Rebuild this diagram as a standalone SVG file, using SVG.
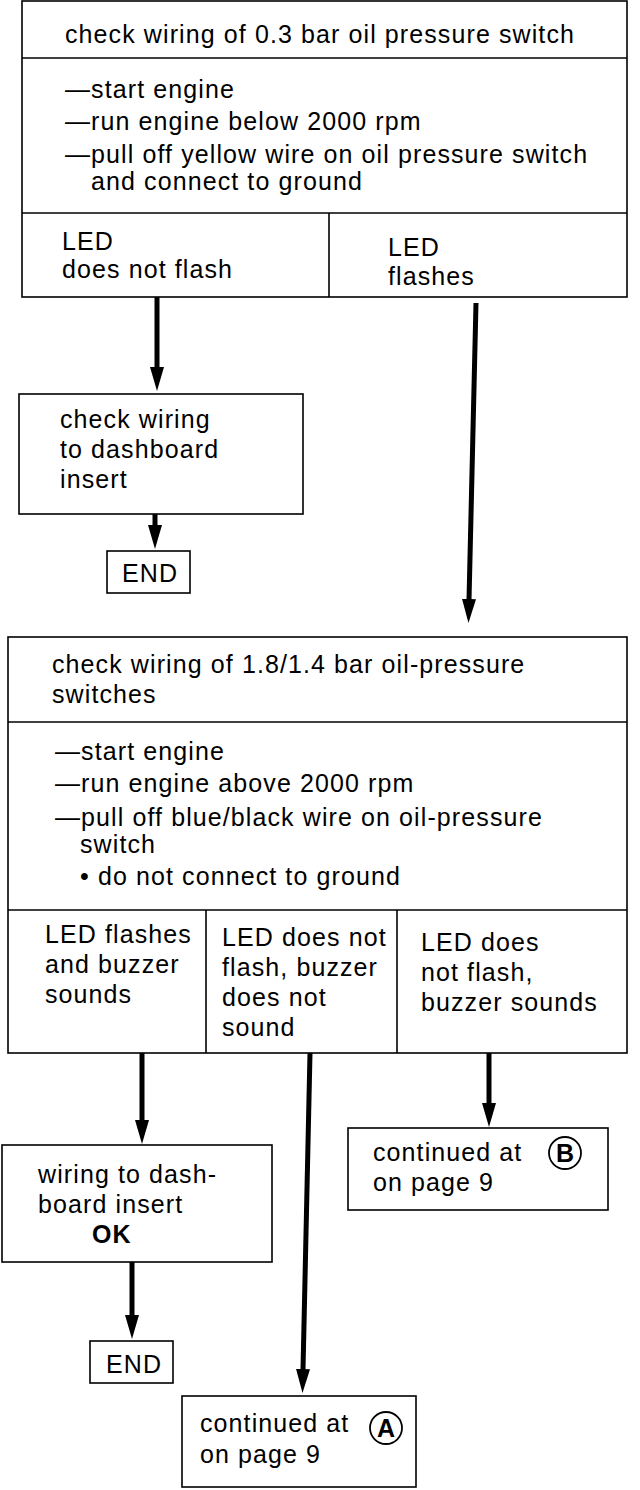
<svg xmlns="http://www.w3.org/2000/svg" width="640" height="1490" viewBox="0 0 640 1490">
<defs>
<style>
text{font-family:"Liberation Sans",Arial,Helvetica,sans-serif;font-size:25px;fill:#000;letter-spacing:1.1px}
.box{fill:none;stroke:#000;stroke-width:1.6}
.ln{fill:none;stroke:#000;stroke-width:1.6}
.arr{fill:none;stroke:#000;stroke-width:5}
.b{font-weight:bold}
</style>
<marker id="ah" viewBox="0 0 24 14" refX="1" refY="7" markerWidth="24" markerHeight="14" markerUnits="userSpaceOnUse" orient="auto">
<path d="M0,0 L24,7 L0,14 z" fill="#000"/>
</marker>
</defs>
<rect width="640" height="1490" fill="#fff"/>

<g id="node-check-03">
<rect class="box" x="22" y="1" width="605" height="296"/>
<line class="ln" x1="22" y1="58" x2="627" y2="58"/>
<line class="ln" x1="22" y1="213" x2="627" y2="213"/>
<line class="ln" x1="329" y1="213" x2="329" y2="297"/>
<text x="65" y="43">check wiring of 0.3 bar oil pressure switch</text>
<text x="65" y="98">—start engine</text>
<text x="65" y="130">—run engine below 2000 rpm</text>
<text x="65" y="163">—pull off yellow wire on oil pressure switch</text>
<text x="91" y="190">and connect to ground</text>
<text x="62" y="250">LED</text>
<text x="62" y="278">does not flash</text>
<text x="388" y="256">LED</text>
<text x="388" y="285">flashes</text>
</g>

<g id="node-check-dash">
<rect class="box" x="19" y="394" width="284" height="120"/>
<text x="60" y="428">check wiring</text>
<text x="60" y="458">to dashboard</text>
<text x="60" y="488">insert</text>
</g>

<g id="node-end1">
<rect class="box" x="107" y="551" width="83" height="42"/>
<text x="122" y="582">END</text>
</g>

<g id="node-check-18">
<rect class="box" x="8" y="637" width="619" height="416"/>
<line class="ln" x1="8" y1="722" x2="627" y2="722"/>
<line class="ln" x1="8" y1="910" x2="627" y2="910"/>
<line class="ln" x1="206" y1="910" x2="206" y2="1053"/>
<line class="ln" x1="397" y1="910" x2="397" y2="1053"/>
<text x="52" y="673">check wiring of 1.8/1.4 bar oil-pressure</text>
<text x="52" y="703">switches</text>
<text x="55" y="760">—start engine</text>
<text x="55" y="792">—run engine above 2000 rpm</text>
<text x="55" y="826">—pull off blue/black wire on oil-pressure</text>
<text x="80" y="853">switch</text>
<text x="80" y="885">• do not connect to ground</text>
<text x="45" y="943">LED flashes</text>
<text x="45" y="973">and buzzer</text>
<text x="45" y="1003">sounds</text>
<text x="222" y="946">LED does not</text>
<text x="222" y="976">flash, buzzer</text>
<text x="222" y="1006">does not</text>
<text x="222" y="1036">sound</text>
<text x="421" y="951">LED does</text>
<text x="421" y="981">not flash,</text>
<text x="421" y="1011">buzzer sounds</text>
</g>

<g id="node-wiring-ok">
<rect class="box" x="2" y="1145" width="270" height="117"/>
<text x="38" y="1183">wiring to dash-</text>
<text x="38" y="1213">board insert</text>
<text class="b" x="92" y="1243">OK</text>
</g>

<g id="node-end2">
<rect class="box" x="90" y="1341" width="83" height="42"/>
<text x="106" y="1373">END</text>
</g>

<g id="node-cont-b">
<rect class="box" x="348" y="1128" width="260" height="82"/>
<text x="373" y="1161">continued at</text>
<text x="373" y="1191">on page 9</text>
<circle cx="565" cy="1153" r="16" fill="none" stroke="#000" stroke-width="1.8"/>
<text class="b" x="565" y="1162" text-anchor="middle" style="letter-spacing:0">B</text>
</g>

<g id="node-cont-a">
<rect class="box" x="182" y="1396" width="234" height="91"/>
<text x="200" y="1432">continued at</text>
<text x="200" y="1463">on page 9</text>
<circle cx="386" cy="1428" r="16" fill="none" stroke="#000" stroke-width="1.8"/>
<text class="b" x="386" y="1437" text-anchor="middle" style="letter-spacing:0">A</text>
</g>

<g id="connectors">
<path class="arr" d="M157,297 L157,368" marker-end="url(#ah)"/>
<path class="arr" d="M476,303 L469,600" marker-end="url(#ah)"/>
<path class="arr" d="M155,514 L155,526" marker-end="url(#ah)"/>
<path class="arr" d="M142,1053 L142,1121" marker-end="url(#ah)"/>
<path class="arr" d="M310,1053 L303,1370" marker-end="url(#ah)"/>
<path class="arr" d="M489,1053 L489,1104" marker-end="url(#ah)"/>
<path class="arr" d="M132,1262 L132,1316" marker-end="url(#ah)"/>
</g>
</svg>
